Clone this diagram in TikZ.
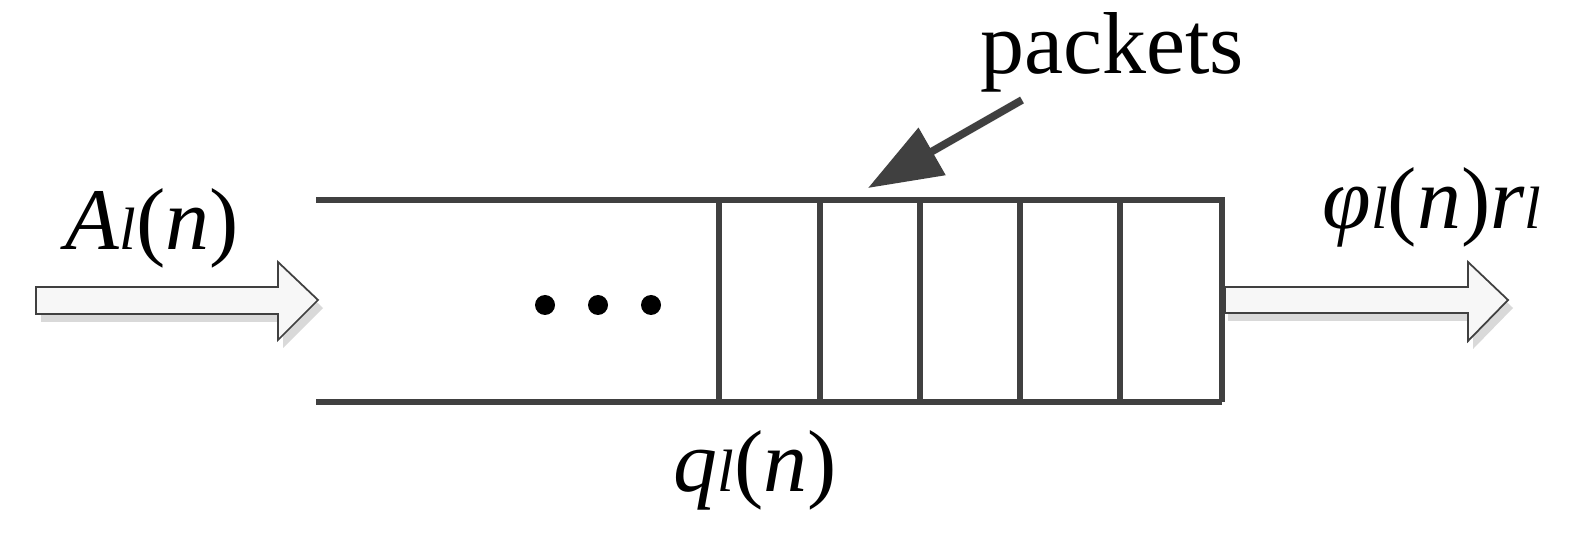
\documentclass[tikz,border=0pt]{standalone}
\usepackage{fontspec}
\setmainfont{Liberation Serif}
\usetikzlibrary{arrows.meta}
\definecolor{ln}{HTML}{404040}
\tikzset{qline/.style={draw=ln,line width=1.8pt},
 lbl/.style={inner sep=0pt,font=\fontsize{25}{28}\selectfont},
 fatarrow/.style={draw=ln,line width=0.5pt,fill=gray!6},
 fatshadow/.style={fill=gray!30,draw=none}}
\newcommand{\sub}[1]{{\fontsize{17}{18}\selectfont\itshape #1}}
\begin{document}
\begin{tikzpicture}[x=0.01cm,y=-0.01cm]
\useasboundingbox (0,0) rectangle (1573,552);
% queue
\coordinate (tl) at (316,200); \coordinate (tr) at (1222,200);
\coordinate (bl) at (316,402); \coordinate (br) at (1222,402);
\draw[qline] (tl) -- (tr) -- (br); \draw[qline] (bl) -- (br);
\foreach \x in {719,820,920,1020,1120} \draw[qline] (\x,200) -- (\x,402);
\foreach \x in {545,598,651} \fill (\x,305) circle (10);
% input arrow
\fill[fatshadow] (41,295) -- (283,295) -- (283,270) -- (323,308) -- (283,348) -- (283,322) -- (41,322) -- cycle;
\path[fatarrow] (36,287) -- (278,287) -- (278,262) -- (318,300) -- (278,340) -- (278,314) -- (36,314) -- cycle;
% output arrow
\fill[fatshadow] (1228,295) -- (1473,295) -- (1473,270) -- (1513,308) -- (1473,349) -- (1473,321) -- (1228,321) -- cycle;
\path[fatarrow] (1225,287) -- (1468,287) -- (1468,262) -- (1508,300) -- (1468,341) -- (1468,313) -- (1225,313) -- cycle;
% labels
\node[lbl] (A) at (152,228) {\textit{A}\sub{l}(\textit{n})};
\node[lbl] (phi) at (1432,207) {\textit{φ}\sub{l}(\textit{n})\textit{r}\sub{l}};
\node[lbl] (q) at (755,470) {\textit{q}\sub{l}(\textit{n})};
\node[lbl] (pk) at (1112,52) {packets};
\coordinate (pa) at (1022,100);
\coordinate (tip) at (868,188);
\draw[draw=ln,line width=2.2pt,-{Triangle[length=21pt,width=15pt]}] (pa) -- (tip);
\end{tikzpicture}
\end{document}
